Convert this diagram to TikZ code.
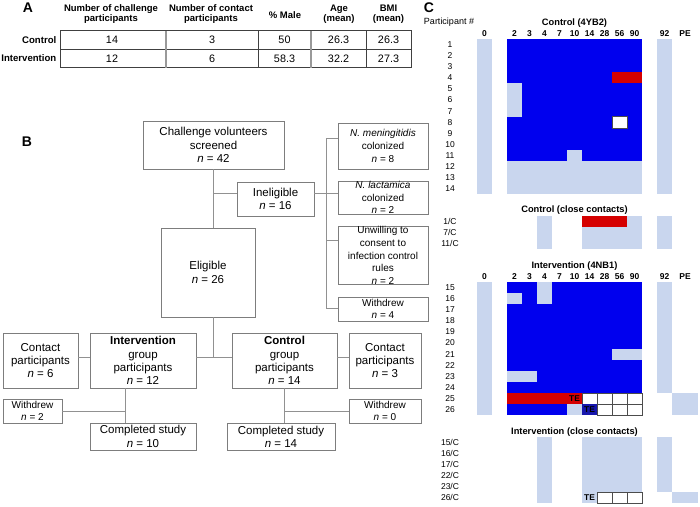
\documentclass[tikz,border=0pt]{standalone}
\usepackage{fontspec}
\setmainfont{Liberation Sans}

\definecolor{boxgray}{RGB}{125,125,125}
\definecolor{linegray}{RGB}{145,145,145}
\definecolor{dayblue}{RGB}{0,0,238}
\definecolor{daylight}{RGB}{201,214,238}
\definecolor{dayred}{RGB}{213,0,0}
\definecolor{dayte}{RGB}{22,22,172}

\tikzset{
  panel/.style={font=\bfseries\fontsize{14}{16}\selectfont, inner sep=0pt},
  flowbox/.style={draw=boxgray, line width=0.8pt, align=center, inner sep=0pt,
    font=\fontsize{11.5}{13.3}\selectfont},
  reasonbox/.style={flowbox, font=\fontsize{10}{12.6}\selectfont},
  wdbox/.style={flowbox, font=\fontsize{10}{11.3}\selectfont},
  link/.style={draw=linegray, line width=0.9pt},
  tabline/.style={draw=black!75, line width=0.6pt},
  tabsep/.style={draw=black!40, line width=1.3pt},
  tabhead/.style={font=\bfseries\fontsize{9.5}{10.5}\selectfont, align=center, inner sep=0pt},
  tabrow/.style={font=\bfseries\fontsize{9.6}{11}\selectfont, anchor=east, inner sep=0pt},
  tabval/.style={font=\fontsize{10.8}{12}\selectfont, inner sep=0pt},
  rowlab/.style={font=\fontsize{8.5}{10}\selectfont, inner sep=0pt},
  collab/.style={font=\bfseries\fontsize{8.5}{10}\selectfont, inner sep=0pt},
  gridtitle/.style={font=\bfseries\fontsize{9.3}{11}\selectfont, inner sep=0pt},
  emptycell/.style={fill=white, draw=black!70, line width=0.6pt},
  tetext/.style={font=\bfseries\fontsize{8.4}{9}\selectfont, inner sep=0pt}
}

\begin{document}
\begin{tikzpicture}[x=1pt,y=-1pt]
\useasboundingbox (0,0) rectangle (700,506);
% panel letters
\node[panel] (pa) at (28,8) {A};
\node[panel] (pb) at (27,142) {B};
\node[panel] (pc) at (429,8) {C};

% ---- A: table of the two groups
\draw[tabline] (60,30.7) rectangle (411,67.7);
\draw[tabline] (60,49.3) -- (411,49.3);
\draw[tabline] (258,30.7) -- (258,67.7);
\draw[tabline] (366,30.7) -- (366,67.7);
\draw[tabsep] (166,30.7) -- (166,67.7);
\draw[tabsep] (311,30.7) -- (311,67.7);
\node[tabhead] (hch) at (111,14) {Number of challenge\\participants};
\node[tabhead] (hco) at (211,14) {Number of contact\\participants};
\node[tabhead] (hma) at (285,15) {\% Male};
\node[tabhead] (hag) at (339,14) {Age\\(mean)};
\node[tabhead] (hbm) at (388.5,14) {BMI\\(mean)};
\node[tabrow] (rc) at (56.5,40) {Control};
\node[tabrow] (ri) at (56.5,58.5) {Intervention};
\node[tabval] (v11) at (112,40) {14};
\node[tabval] (v12) at (212,40) {3};
\node[tabval] (v13) at (284.5,40) {50};
\node[tabval] (v14) at (338.5,40) {26.3};
\node[tabval] (v15) at (388.5,40) {26.3};
\node[tabval] (v21) at (112,58.5) {12};
\node[tabval] (v22) at (212,58.5) {6};
\node[tabval] (v23) at (284.5,58.5) {58.3};
\node[tabval] (v24) at (338.5,58.5) {32.2};
\node[tabval] (v25) at (388.5,58.5) {27.3};

% ---- B: flow of participants
\node[flowbox, minimum width=141pt, minimum height=48pt] (chal) at (213.5,145)
  {Challenge volunteers\\screened\\\textit{n} = 42};
\node[flowbox, minimum width=77pt, minimum height=34pt] (inel) at (275.5,199)
  {Ineligible\\\textit{n} = 16};
\node[flowbox, minimum width=94pt, minimum height=89pt] (elig) at (208,272.5)
  {Eligible\\\textit{n} = 26};
\node[reasonbox, minimum width=90pt, minimum height=46pt] (men) at (383,146)
  {\textit{N. meningitidis}\\colonized\\\textit{n} = 8};
\node[reasonbox, minimum width=90pt, minimum height=33pt] (lact) at (383,197.5)
  {\textit{N. lactamica}\\colonized\\\textit{n} = 2};
\node[reasonbox, minimum width=90pt, minimum height=57pt] (unw) at (383,255.5)
  {Unwilling to\\consent to\\infection control\\rules\\\textit{n} = 2};
\node[wdbox, minimum width=90pt, minimum height=24pt] (wd4) at (383,309)
  {Withdrew\\\textit{n} = 4};
\node[flowbox, minimum width=75pt, minimum height=55pt] (contI) at (40.5,360.5)
  {Contact\\participants\\\textit{n} = 6};
\node[flowbox, minimum width=106pt, minimum height=55pt] (intv) at (143,360.5)
  {\textbf{Intervention}\\group\\participants\\\textit{n} = 12};
\node[flowbox, minimum width=105pt, minimum height=55pt] (ctrl) at (284.5,360.5)
  {\textbf{Control}\\group\\participants\\\textit{n} = 14};
\node[flowbox, minimum width=72pt, minimum height=55pt] (contC) at (385,360.5)
  {Contact\\participants\\\textit{n} = 3};
\node[wdbox, minimum width=59pt, minimum height=24pt] (wdI) at (32.5,411)
  {Withdrew\\\textit{n} = 2};
\node[flowbox, minimum width=106pt, minimum height=27pt] (compI) at (143,436.5)
  {Completed study\\\textit{n} = 10};
\node[flowbox, minimum width=108pt, minimum height=27pt] (compC) at (281,436.5)
  {Completed study\\\textit{n} = 14};
\node[wdbox, minimum width=72pt, minimum height=24pt] (wdC) at (385,411)
  {Withdrew\\\textit{n} = 0};

% trunk and side branches
\coordinate (ti) at ([yshift=6pt]inel.west);
\coordinate (te) at ([yshift=6pt]inel.east);
\coordinate (tb) at ([yshift=3.5pt]intv.east);
\draw[link] (chal.south) -- (chal.south |- elig.north);
\draw[link] (chal.south |- ti) -- (ti);
\draw[link] (chal.south |- elig.south) -- (chal.south |- tb);
\draw[link] (tb) -- (tb -| ctrl.west);
\draw[link] ([yshift=3.5pt]contI.east) -- ([yshift=3.5pt]intv.west);
\draw[link] ([yshift=3.5pt]ctrl.east) -- ([yshift=3.5pt]contC.west);
% reasons for ineligibility
\coordinate (br) at (326,0);
\coordinate (tm) at ([yshift=8pt]men.west);
\coordinate (tl) at ([yshift=4.5pt]lact.west);
\coordinate (tu) at ([yshift=15.5pt]unw.west);
\coordinate (tw) at ([yshift=1pt]wd4.west);
\draw[link] (br |- tm) -- (br |- tw);
\draw[link] (te) -- (tl);
\foreach \t in {tm,tu,tw} \draw[link] (br |- \t) -- (\t);
% follow-up
\coordinate (iv) at ([xshift=-18pt]intv.south);
\draw[link] (iv) -- (iv |- compI.north);
\draw[link] (wdI.east) -- (iv |- wdI.east);
\draw[link] (ctrl.south) -- (ctrl.south |- compC.north);
\draw[link] (ctrl.south |- wdC.west) -- (wdC.west);

% ---- C: sampling days per participant
\node[font=\fontsize{9}{10}\selectfont, inner sep=0pt] (ph) at (449,22) {Participant \#};

% control (4YB2)
\begin{scope}[shift={(507,39)}, x=15pt, y=11.1pt, yscale=-1]
\node[gridtitle] (tc) at (4.5,-1.44) {Control (4YB2)};
\node[collab] (cd0) at (-1.5,-0.5) {0};
\foreach \d [count=\i from 0] in {2,3,4,7,10,14,28,56,90}
  \node[collab] (cd\d) at (\i+0.5,-0.5) {\d};
\node[collab] (cd92) at (10.5,-0.5) {92};
\node[collab] (cdpe) at (11.87,-0.5) {PE};
\foreach \r in {1,...,14}
  \node[rowlab] (cr\r) at (-3.8,\r-0.5) {\r};
\fill[daylight] (-2,0) rectangle (-1,14);
\fill[daylight] (10,0) rectangle (11,14);
\fill[dayblue] (0,0) rectangle (9,11);
\fill[daylight] (0,11) rectangle (9,14);
\fill[dayred] (7,3) rectangle (9,4);
\fill[daylight] (0,4) rectangle (1,7);
\fill[daylight] (4,10) rectangle (5,11);
\filldraw[emptycell] (7,7) rectangle (8,8);
\end{scope}

% control (close contacts)
\begin{scope}[shift={(507,215.7)}, x=15pt, y=11.1pt, yscale=-1]
\node[gridtitle] (tcc) at (4.5,-0.5) {Control (close contacts)};
\foreach \p [count=\i] in {1,7,11}
  \node[rowlab] (cc\p) at (-3.8,\i-0.5) {\p/C};
\fill[daylight] (2,0) rectangle (3,3);
\fill[daylight] (5,0) rectangle (9,3);
\fill[dayred] (5,0) rectangle (8,1);
\fill[daylight] (10,0) rectangle (11,3);
\end{scope}

% intervention (4NB1)
\begin{scope}[shift={(507,282)}, x=15pt, y=11.1pt, yscale=-1]
\node[gridtitle] (ti) at (4.5,-1.44) {Intervention (4NB1)};
\node[collab] (id0) at (-1.5,-0.5) {0};
\foreach \d [count=\i from 0] in {2,3,4,7,10,14,28,56,90}
  \node[collab] (id\d) at (\i+0.5,-0.5) {\d};
\node[collab] (id92) at (10.5,-0.5) {92};
\node[collab] (idpe) at (11.87,-0.5) {PE};
\foreach \r [count=\i] in {15,...,26}
  \node[rowlab] (ir\r) at (-3.8,\i-0.5) {\r};
\fill[daylight] (-2,0) rectangle (-1,12);
\fill[daylight] (10,0) rectangle (11,10);
\fill[daylight] (11,10) rectangle (12.73,12);
\fill[dayblue] (0,0) rectangle (9,10);
\fill[daylight] (2,0) rectangle (3,2);
\fill[daylight] (0,1) rectangle (1,2);
\fill[daylight] (7,6) rectangle (9,7);
\fill[daylight] (0,8) rectangle (2,9);
% participant 25
\fill[dayred] (0,10) rectangle (5,11);
\node[tetext] (te25) at (4.5,10.5) {TE};
\foreach \c in {5,...,8}
  \filldraw[emptycell] (\c,10) rectangle (\c+1,11);
% participant 26
\fill[dayblue] (0,11) rectangle (4,12);
\fill[daylight] (4,11) rectangle (5,12);
\fill[dayte] (5,11) rectangle (6,12);
\node[tetext] (te26) at (5.5,11.5) {TE};
\foreach \c in {6,7,8}
  \filldraw[emptycell] (\c,11) rectangle (\c+1,12);
\end{scope}

% intervention (close contacts)
\begin{scope}[shift={(507,436.7)}, x=15pt, y=11.1pt, yscale=-1]
\node[gridtitle] (tic) at (4.5,-0.42) {Intervention (close contacts)};
\foreach \p [count=\i] in {15,16,17,22,23,26}
  \node[rowlab] (ic\p) at (-3.8,\i-0.5) {\p/C};
\fill[daylight] (2,0) rectangle (3,6);
\fill[daylight] (5,0) rectangle (9,5);
\fill[daylight] (5,5) rectangle (6,6);
\node[tetext] (te26c) at (5.5,5.5) {TE};
\foreach \c in {6,7,8}
  \filldraw[emptycell] (\c,5) rectangle (\c+1,6);
\fill[daylight] (10,0) rectangle (11,5);
\fill[daylight] (11,5) rectangle (12.73,6);
\end{scope}
\end{tikzpicture}
\end{document}
